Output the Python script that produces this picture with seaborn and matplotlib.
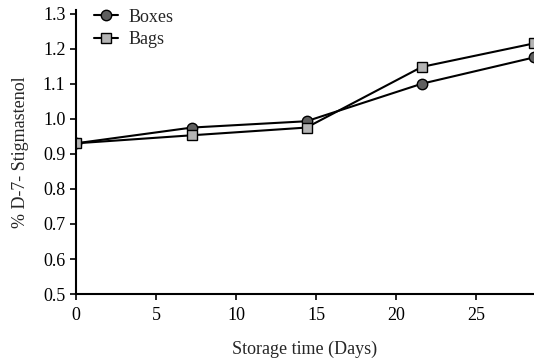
import numpy as np
import pandas as pd
import matplotlib
matplotlib.use("Agg")
import matplotlib.pyplot as plt
import seaborn as sns

# data
days = [0, 7.25, 14.4, 21.6, 28.6]
boxes = [0.93, 0.975, 0.993, 1.10, 1.175]
bags = [0.93, 0.953, 0.975, 1.148, 1.215]

sns.set_style("white")
plt.rcParams['font.family'] = ['Liberation Serif', 'DejaVu Serif']

df = pd.DataFrame({
    'day': days * 2,
    'value': boxes + bags,
    'group': ['Boxes'] * len(days) + ['Bags'] * len(days),
})

fig = plt.figure(figsize=(5.34, 3.6), dpi=100)
ax = fig.add_axes([0.142, 0.183, 0.858, 0.789])

styles = {'Boxes': ('o', '#5f5f5f'), 'Bags': ('s', '#b4b4b4')}
for name in ['Boxes', 'Bags']:
    sub = df[df['group'] == name]
    mk, fc = styles[name]
    sns.lineplot(data=sub, x='day', y='value', ax=ax, color='black', lw=1.5,
                 marker=mk, markersize=7.5, markerfacecolor=fc,
                 markeredgecolor='black', markeredgewidth=1.0,
                 label=name, clip_on=True)

ax.set_xlim(0, 28.6)
ax.set_ylim(0.5, 1.31)
ax.set_xticks([0, 5, 10, 15, 20, 25])
yt = np.round(np.arange(0.5, 1.31, 0.1), 1)
ax.set_yticks(yt)
ax.set_yticklabels([f'{v:.1f}' for v in yt])

for s in ['top', 'right']:
    ax.spines[s].set_visible(False)
for s in ['left', 'bottom']:
    ax.spines[s].set_color('black')
    ax.spines[s].set_linewidth(1.5)

ax.tick_params(axis='both', direction='out', length=4, width=1.2,
               colors='black', labelsize=13, left=True, bottom=True)
ax.tick_params(axis='x', pad=5)

ax.set_xlabel('Storage time (Days)', fontsize=13, labelpad=12)
ax.set_ylabel('% D-7- Stigmastenol', fontsize=13, labelpad=10)

ax.legend(loc='upper left', bbox_to_anchor=(0.024, 1.03), frameon=False,
          fontsize=13, handlelength=1.3, handletextpad=0.6,
          labelspacing=0.3, borderaxespad=0)

fig.savefig('out.png', dpi=100)
